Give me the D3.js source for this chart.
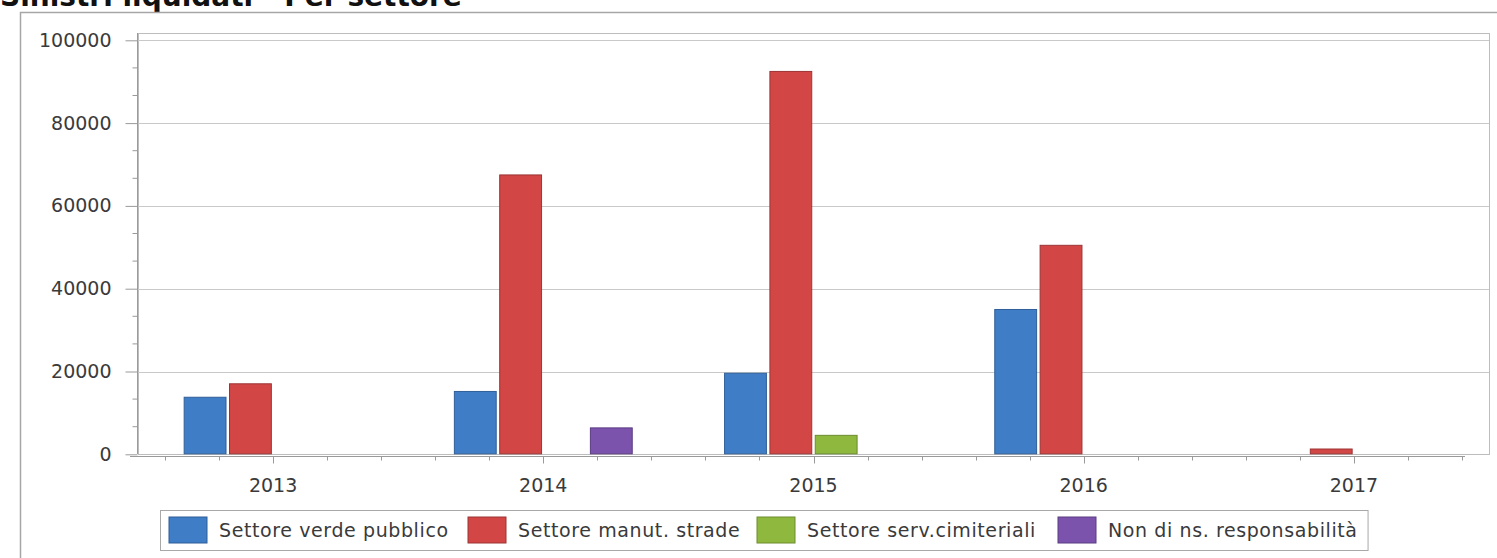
<!DOCTYPE html>
<html>
<head>
<meta charset="utf-8">
<script src="https://cdn.jsdelivr.net/npm/d3@7"></script>
<style>
  html, body { margin: 0; padding: 0; background: #ffffff; overflow: hidden; }
  svg { display: block; font-family: "DejaVu Sans", Verdana, sans-serif; }
</style>
</head>
<body>
<div id="chart"></div>
<script>
// Sinistri liquidati - Per settore

const years = ["2013", "2014", "2015", "2016", "2017"];
const seriesNames = [
    "Settore verde pubblico",
    "Settore manut. strade",
    "Settore serv.cimiteriali",
    "Non di ns. responsabilità"
];
const verdePubblico = [13900, 15300, 19700, 35100, 0];
const manutStrade = [17150, 67600, 92600, 50600, 1400];
const servCimiteriali = [0, 0, 4700, 0, 0];
const nonResponsabilita = [0, 6500, 0, 0, 0];
const yTicks = [0, 20000, 40000, 60000, 80000, 100000];

const seriesValues = [verdePubblico, manutStrade, servCimiteriali, nonResponsabilita];
const fills = ["#3f7dc6", "#d24646", "#8fb83e", "#7b53ad"];
const strokes = ["#2f5f98", "#9c3434", "#6c8c2e", "#5a3c82"];

const W = 1497, H = 558;
const plot = { left: 138, right: 1489, top: 33, bottom: 454 };

const svg = d3.select("#chart").append("svg")
    .attr("width", W)
    .attr("height", H);

// title, cut at the top like the screenshot
svg.append("text")
    .attr("x", 0)
    .attr("y", 6)
    .attr("font-size", 28)
    .attr("font-weight", "bold")
    .attr("fill", "#111")
    .text("Sinistri liquidati - Per settore");

// outer frame
svg.append("path")
    .attr("d", `M20.5,${H} V12.5 H${W}`)
    .attr("fill", "none")
    .attr("stroke", "#a6a6a6")
    .attr("stroke-width", 1.5);

const x = d3.scaleBand()
    .domain(years)
    .range([plot.left, plot.right])
    .paddingInner(0.338)
    .paddingOuter(0.169);

const xs = d3.scaleBand()
    .domain(d3.range(seriesNames.length))
    .range([0, x.bandwidth()])
    .paddingInner(0.055);

const y = d3.scaleLinear()
    .domain([0, 100000])
    .range([454.3, 40.3]);

// plot frame
svg.append("rect")
    .attr("x", plot.left + 0.5)
    .attr("y", plot.top + 0.5)
    .attr("width", plot.right - plot.left)
    .attr("height", plot.bottom - plot.top)
    .attr("fill", "#fff")
    .attr("stroke", "#bdbdbd");

// grid lines
svg.append("g")
    .selectAll("line")
    .data(yTicks.slice(1))
    .join("line")
    .attr("x1", plot.left)
    .attr("x2", plot.right)
    .attr("y1", d => Math.round(y(d)) + 0.5)
    .attr("y2", d => Math.round(y(d)) + 0.5)
    .attr("stroke", "#c9c9c9");

// y axis
const yAxis = svg.append("g")
    .attr("transform", `translate(${plot.left - 0.5},0)`)
    .call(d3.axisLeft(y).tickValues(yTicks).tickSize(12).tickPadding(14).tickFormat(d3.format("d")));
yAxis.select(".domain").attr("stroke", "#9a9a9a").attr("d", `M0,${plot.top}V${plot.bottom}`);
yAxis.selectAll(".tick line").attr("stroke", "#9a9a9a");
yAxis.selectAll("text")
    .attr("font-size", 19)
    .attr("font-family", "DejaVu Sans, sans-serif")
    .attr("fill", "#3a3a3a");

// y minor ticks at thirds
const yMinor = [];
yTicks.slice(0, -1).forEach((t, i) => {
    yMinor.push(t + (yTicks[i + 1] - t) / 3, t + 2 * (yTicks[i + 1] - t) / 3);
});
yAxis.append("g")
    .selectAll("line")
    .data(yMinor)
    .join("line")
    .attr("x1", -5)
    .attr("x2", 0)
    .attr("y1", d => y(d))
    .attr("y2", d => y(d))
    .attr("stroke", "#9a9a9a");

// x axis
const xAxisY = 456.5;
const xg = svg.append("g").attr("transform", `translate(0,${xAxisY})`);
xg.append("line")
    .attr("x1", 130)
    .attr("x2", 1465)
    .attr("stroke", "#9a9a9a");
const step = x.step() / 5;
const xTickPos = [];
years.forEach(yr => {
    const c = x(yr) + x.bandwidth() / 2;
    for (let k = -2; k <= 2; k++) xTickPos.push({ pos: c + k * step, major: k === 0 });
});
xg.selectAll(".xt")
    .data(xTickPos)
    .join("line")
    .attr("class", "xt")
    .attr("x1", d => Math.round(d.pos) + 0.5)
    .attr("x2", d => Math.round(d.pos) + 0.5)
    .attr("y1", 0)
    .attr("y2", d => d.major ? 7 : 4)
    .attr("stroke", "#9a9a9a");
xg.selectAll(".xl")
    .data(years)
    .join("text")
    .attr("class", "xl")
    .attr("x", d => x(d) + x.bandwidth() / 2)
    .attr("y", 35)
    .attr("text-anchor", "middle")
    .attr("font-size", 19)
    .attr("fill", "#3a3a3a")
    .text(d => d);

// bars
const barData = [];
years.forEach((yr, i) => {
    seriesValues.forEach((vals, s) => {
        if (vals[i] > 0) barData.push({ year: yr, s: s, value: vals[i] });
    });
});
svg.append("g")
    .selectAll("rect")
    .data(barData)
    .join("rect")
    .attr("x", d => x(d.year) + xs(d.s) + 0.5)
    .attr("y", d => y(d.value) + 0.5)
    .attr("width", xs.bandwidth() - 1)
    .attr("height", d => y(0) - y(d.value) - 1)
    .attr("fill", d => fills[d.s])
    .attr("stroke", d => strokes[d.s])
    .attr("stroke-width", 1);

// legend
const legend = svg.append("g").attr("transform", "translate(160,510)");
const legendStarts = [9, 308, 597, 898];
const item = legend.selectAll(".li")
    .data(seriesNames)
    .join("g")
    .attr("class", "li")
    .attr("transform", (d, i) => `translate(${legendStarts[i]},7)`);
item.append("rect")
    .attr("width", 38)
    .attr("height", 26)
    .attr("fill", (d, i) => fills[i])
    .attr("stroke", (d, i) => strokes[i]);
item.append("text")
    .attr("x", 50)
    .attr("y", 20)
    .attr("font-size", 19)
    .attr("letter-spacing", 0.6)
    .attr("fill", "#3a3a3a")
    .text(d => d);

let legendRight = 0;
item.each(function () {
    const b = this.getBBox();
    const t = d3.select(this).attr("transform").match(/translate\(([\d.]+)/);
    legendRight = Math.max(legendRight, +t[1] + b.width);
});
legend.insert("rect", ":first-child")
    .attr("x", 0.5)
    .attr("y", 0.5)
    .attr("width", legendRight + 10)
    .attr("height", 40)
    .attr("fill", "#fff")
    .attr("stroke", "#a8a8a8");
</script>
</body>
</html>
